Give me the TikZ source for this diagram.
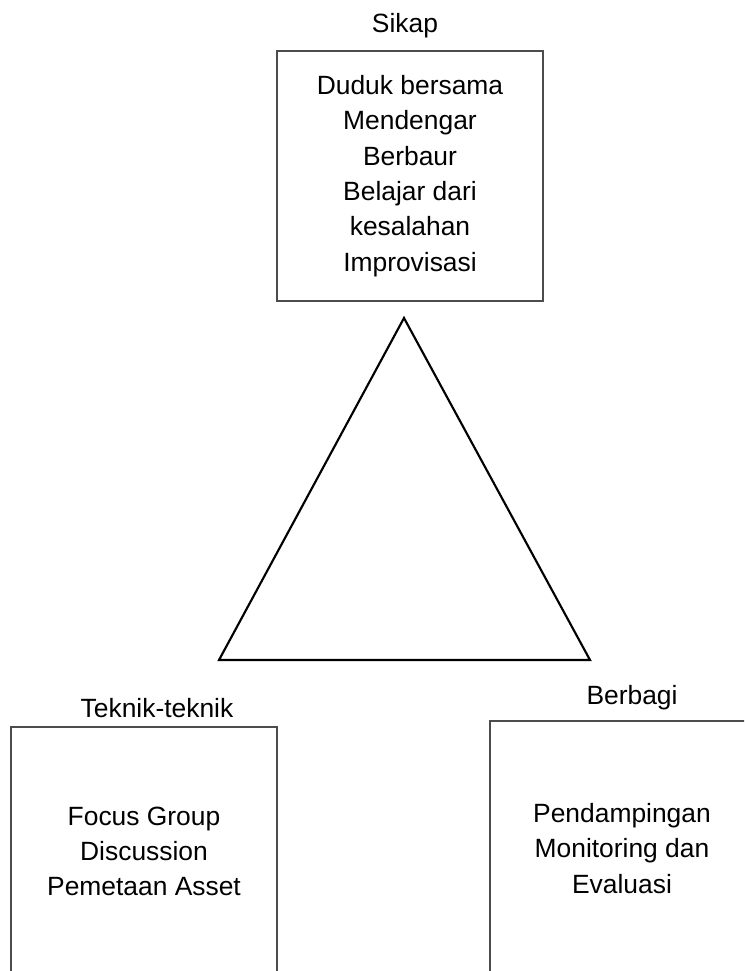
\documentclass[tikz,border=0pt]{standalone}
\usepackage{fontspec}
\setmainfont{Liberation Sans}
\begin{document}
\begin{tikzpicture}[x=0.75pt,y=-0.75pt,
  txt/.style={font=\fontsize{19.8}{26.5}\selectfont, align=center, inner sep=0pt},
  frame/.style={draw=black!70, line width=0.8pt, txt},
  tri/.style={draw=black, line width=1.6pt, line join=miter}]
\useasboundingbox (0,0) rectangle (744,971);
\clip (0,0) rectangle (744,971);
% labels
\node[txt, anchor=base] (lsikap) at (405,32.3) {Sikap};
\node[txt, anchor=base] (lteknik) at (157,717) {Teknik-teknik};
\node[txt, anchor=base] (lberbagi) at (632,704) {Berbagi};
% boxes
\node[frame, minimum width=199.5pt, minimum height=187.5pt] (sikap) at (410,176)
  {Duduk bersama\\Mendengar\\Berbaur\\Belajar dari\\kesalahan\\Improvisasi};
\node[frame, minimum width=199.5pt, minimum height=186.75pt] (teknik) at (144,851.5)
  {Focus Group\\Discussion\\Pemetaan Asset};
\node[frame, minimum width=198pt, minimum height=191.25pt] (berbagi) at (622,848.5)
  {Pendampingan\\Monitoring dan\\Evaluasi};
% triangle
\coordinate (apex) at (404,318);
\coordinate (bl) at (219,660);
\coordinate (br) at (590,660);
\draw[tri] (apex) -- (br) -- (bl) -- cycle;
\end{tikzpicture}
\end{document}
